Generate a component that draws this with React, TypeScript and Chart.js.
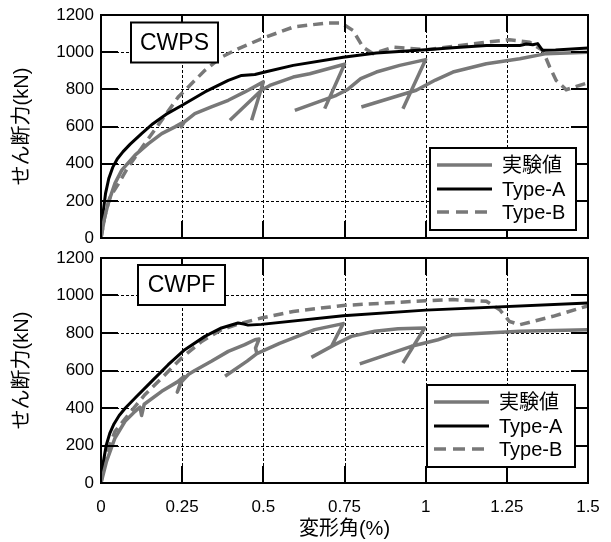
import React, { useEffect, useRef } from 'react';
import { Chart, registerables } from 'chart.js';

Chart.register(...registerables);

const FONT = "'Liberation Sans', Arial, 'Noto Sans CJK JP', sans-serif";
const GRAY = '#787878';

const xTickLabels = ['0', '0.25', '0.5', '0.75', '1', '1.25', '1.5'];
const yTickLabels = ['0', '200', '400', '600', '800', '1000', '1200'];
const seriesLabels = ['実験値', 'Type-A', 'Type-B'];
const panelNames = ['CWPS', 'CWPF'];
const yTitle = 'せん断力(kN)';
const xTitle = '変形角(%)';

// ---- CWPS (top panel) ----
const cwpsExpX = [0, 0.01, 0.022, 0.043, 0.064, 0.105, 0.146, 0.187, 0.228, 0.25, 0.247, 0.257, 0.289, 0.34, 0.392, 0.443, 0.5, 0.464, null,
  0.397, 0.494, 0.52, 0.592, 0.643, 0.75, 0.689, null,
  0.597, 0.725, 0.76, 0.8, 0.848, 0.92, 1.0, 0.93, null,
  0.802, 0.971, 1.03, 1.084, 1.187, 1.29, 1.371, 1.5];
const cwpsExpY = [0, 100, 186, 294, 365, 446, 508, 562, 598, 620, 598, 625, 669, 705, 741, 786, 840, 634, null,
  634, 795, 821, 866, 884, 935, 696, null,
  687, 768, 800, 858, 893, 929, 960, 696, null,
  705, 795, 850, 893, 938, 965, 992, 1000];
const cwpsAX = [0, 0.006, 0.014, 0.024, 0.036, 0.05, 0.068, 0.09, 0.125, 0.16, 0.2, 0.25, 0.32, 0.392, 0.433, 0.474, 0.505, 0.592, 0.746, 0.848, 1.0, 1.083, 1.187, 1.29, 1.31, 1.33, 1.345, 1.36, 1.4, 1.5];
const cwpsAY = [0, 130, 240, 320, 380, 425, 465, 505, 562, 615, 665, 714, 786, 848, 875, 880, 893, 929, 973, 995, 1013, 1024, 1036, 1036, 1044, 1040, 1046, 1010, 1012, 1022];
const cwpsBX = [0, 0.012, 0.028, 0.053, 0.084, 0.135, 0.187, 0.238, 0.289, 0.32, 0.371, 0.422, 0.494, 0.592, 0.694, 0.74, 0.776, 0.807, 0.838, 0.9, 1.0, 1.084, 1.187, 1.258, 1.32, 1.361, 1.382, 1.402, 1.433, 1.5];
const cwpsBY = [0, 120, 222, 290, 383, 508, 634, 759, 848, 902, 973, 1018, 1072, 1135, 1157, 1157, 1117, 1027, 992, 1027, 1013, 1031, 1054, 1067, 1054, 1009, 920, 848, 798, 836];

// ---- CWPF (bottom panel) ----
const cwpfExpX = [0, 0.017, 0.043, 0.074, 0.105, 0.12, 0.125, 0.133, 0.187, 0.238, 0.255, 0.235, 0.245, 0.27, 0.289, 0.34, 0.392, 0.443, 0.474, 0.487, 0.476, 0.48, null,
  0.382, 0.45, 0.48, 0.55, 0.658, 0.746, 0.71, null,
  0.648, 0.72, 0.771, 0.843, 0.915, 0.997, 0.93, null,
  0.797, 0.956, 1.038, 1.084, 1.29, 1.5];
const cwpfExpY = [0, 115, 240, 329, 382, 405, 360, 420, 489, 542, 568, 485, 535, 580, 600, 649, 702, 738, 764, 768, 720, 690, null,
  569, 650, 690, 745, 818, 850, 729, null,
  670, 738, 782, 809, 823, 827, 640, null,
  635, 729, 764, 791, 809, 818];
const cwpfAX = [0, 0.007, 0.016, 0.027, 0.04, 0.056, 0.075, 0.105, 0.156, 0.207, 0.258, 0.32, 0.371, 0.422, 0.44, 0.453, 0.494, 0.746, 1.0, 1.5];
const cwpfAY = [0, 110, 200, 265, 315, 360, 400, 453, 542, 631, 711, 782, 827, 853, 848, 842, 846, 892, 922, 960];
const cwpfBX = [0, 0.01, 0.022, 0.043, 0.084, 0.135, 0.187, 0.248, 0.31, 0.371, 0.433, 0.494, 0.592, 0.746, 1.0, 1.084, 1.187, 1.228, 1.258, 1.29, 1.392, 1.5];
const cwpfBY = [0, 100, 180, 275, 364, 471, 560, 667, 755, 818, 853, 880, 915, 947, 972, 978, 969, 924, 862, 844, 889, 945];

function pts(xs: (number | null)[], ys: (number | null)[]) {
  return xs.map((x, i) => ({ x: x == null ? (xs[i - 1] as number) : x, y: ys[i] }));
}

const panelPlugin = {
  id: 'panel',
  beforeDatasetsDraw(chart: any) {
    const { ctx, chartArea: a, scales } = chart;
    const xs = scales.x, ys = scales.y;
    ctx.save();
    ctx.strokeStyle = '#000';
    ctx.lineWidth = 1;
    ctx.setLineDash([3, 2]);
    ctx.beginPath();
    xs.ticks.forEach((t: any) => {
      const px = Math.round(xs.getPixelForValue(t.value)) + 0.5;
      if (px > a.left + 2 && px < a.right - 2) { ctx.moveTo(px, a.top); ctx.lineTo(px, a.bottom); }
    });
    ys.ticks.forEach((t: any) => {
      const py = Math.round(ys.getPixelForValue(t.value)) + 0.5;
      if (py > a.top + 2 && py < a.bottom - 2) { ctx.moveTo(a.left, py); ctx.lineTo(a.right, py); }
    });
    ctx.stroke();
    ctx.restore();
  },
  afterDatasetsDraw(chart: any, _args: any, opts: any) {
    const { ctx, chartArea: a, scales } = chart;
    const xs = scales.x, ys = scales.y;
    const TL = 17;
    ctx.save();
    ctx.setLineDash([]);
    ctx.strokeStyle = '#000';
    ctx.lineWidth = 2;
    ctx.beginPath();
    xs.ticks.forEach((t: any) => {
      const px = Math.round(xs.getPixelForValue(t.value));
      ctx.moveTo(px, a.bottom); ctx.lineTo(px, a.bottom - TL);
      ctx.moveTo(px, a.top); ctx.lineTo(px, a.top + TL);
    });
    ys.ticks.forEach((t: any) => {
      const py = Math.round(ys.getPixelForValue(t.value));
      ctx.moveTo(a.left, py); ctx.lineTo(a.left + TL, py);
      ctx.moveTo(a.right, py); ctx.lineTo(a.right - TL, py);
    });
    ctx.stroke();
    ctx.strokeRect(a.left, a.top, a.right - a.left, a.bottom - a.top);

    // panel name box
    const bx = a.left + opts.nameDX, by = a.top + opts.nameDY, bw = 87, bh = 40;
    ctx.fillStyle = '#fff';
    ctx.fillRect(bx, by, bw, bh);
    ctx.strokeRect(bx, by, bw, bh);
    ctx.fillStyle = '#000';
    ctx.font = `23px ${FONT}`;
    ctx.textAlign = 'center';
    ctx.textBaseline = 'middle';
    ctx.fillText(opts.name, bx + bw / 2, by + bh / 2 + 1);

    // legend
    const lw = opts.legendW, lh = 82;
    const lx = a.right - opts.legendDR - lw;
    const ly = a.bottom - opts.legendDB - lh;
    ctx.fillStyle = '#fff';
    ctx.fillRect(lx, ly, lw, lh);
    ctx.strokeStyle = '#000';
    ctx.lineWidth = 2;
    ctx.strokeRect(lx, ly, lw, lh);
    ctx.font = `20px ${FONT}`;
    ctx.textAlign = 'left';
    chart.data.datasets.forEach((ds: any, i: number) => {
      const yy = Math.round(ly + 17 + i * 23.5);
      ctx.strokeStyle = ds.borderColor;
      ctx.lineWidth = ds.borderWidth;
      ctx.setLineDash(ds.borderDash ? [12, 7] : []);
      ctx.beginPath();
      ctx.moveTo(lx + 7, yy);
      ctx.lineTo(lx + 62, yy);
      ctx.stroke();
      ctx.fillStyle = '#000';
      ctx.fillText(ds.label, lx + 72, yy + 1);
    });
    ctx.restore();
  },
};

function makeDatasets(ex: any[], a: any[], b: any[]) {
  return [
    { label: seriesLabels[0], data: ex, borderColor: GRAY, borderWidth: 3.5, pointRadius: 0, tension: 0, spanGaps: false, borderJoinStyle: 'round' },
    { label: seriesLabels[1], data: a, borderColor: '#000', borderWidth: 3, pointRadius: 0, tension: 0, borderJoinStyle: 'round' },
    { label: seriesLabels[2], data: b, borderColor: GRAY, borderWidth: 3.5, pointRadius: 0, tension: 0, borderDash: [10, 6] },
  ];
}

function zeroPad(s: any) {
  s.paddingTop = 0; s.paddingBottom = 0; s.paddingLeft = 0; s.paddingRight = 0;
}

function makeConfig(bottom: boolean, datasets: any[], panel: any): any {
  return {
    type: 'line',
    data: { datasets },
    plugins: [panelPlugin],
    options: {
      animation: false,
      responsive: false,
      layout: { padding: { left: 0, right: 23, top: bottom ? 8 : 15, bottom: 0 } },
      plugins: { legend: { display: false }, tooltip: { enabled: false }, panel },
      scales: {
        x: {
          type: 'linear', min: 0, max: 1.5,
          grid: { display: false, drawTicks: false },
          border: { display: false },
          ticks: {
            display: bottom, stepSize: 0.25, color: '#000', maxRotation: 0, autoSkip: false,
            padding: 14, font: { family: FONT, size: 17 },
            callback: (_v: any, i: number) => xTickLabels[i],
          },
          title: {
            display: bottom, text: xTitle, color: '#000',
            font: { family: FONT, size: 20 }, padding: { top: 0, bottom: 1 },
          },
          afterFit: (s: any) => { s.height = bottom ? 59 : 12; zeroPad(s); },
        },
        y: {
          type: 'linear', min: 0, max: 1200,
          grid: { display: false, drawTicks: false },
          border: { display: false },
          ticks: {
            stepSize: 200, color: '#000', padding: 7, font: { family: FONT, size: 17 },
            callback: (_v: any, i: number) => yTickLabels[i],
          },
          title: {
            display: true, text: yTitle, color: '#000',
            font: { family: FONT, size: 20 }, padding: { top: 10, bottom: 0 },
          },
          afterFit: (s: any) => { s.width = 101; zeroPad(s); },
        },
      },
    },
  };
}

export default function App() {
  const topRef = useRef<HTMLCanvasElement>(null);
  const botRef = useRef<HTMLCanvasElement>(null);

  useEffect(() => {
    const top = new Chart(topRef.current as HTMLCanvasElement, makeConfig(false,
      makeDatasets(pts(cwpsExpX, cwpsExpY), pts(cwpsAX, cwpsAY), pts(cwpsBX, cwpsBY)),
      { name: panelNames[0], nameDX: 30, nameDY: 7.5, legendW: 146, legendDR: 12, legendDB: 8 }));
    const bot = new Chart(botRef.current as HTMLCanvasElement, makeConfig(true,
      makeDatasets(pts(cwpfExpX, cwpfExpY), pts(cwpfAX, cwpfAY), pts(cwpfBX, cwpfBY)),
      { name: panelNames[1], nameDX: 37, nameDY: 7, legendW: 148, legendDR: 13, legendDB: 16 }));
    return () => { top.destroy(); bot.destroy(); };
  }, []);

  return (
    <div style={{ position: 'absolute', left: 0, top: 0, width: 611, height: 542, background: '#fff' }}>
      <canvas ref={topRef} width={611} height={250} style={{ position: 'absolute', left: 0, top: 0, display: 'block' }} />
      <canvas ref={botRef} width={611} height={292} style={{ position: 'absolute', left: 0, top: 250, display: 'block' }} />
    </div>
  );
}
